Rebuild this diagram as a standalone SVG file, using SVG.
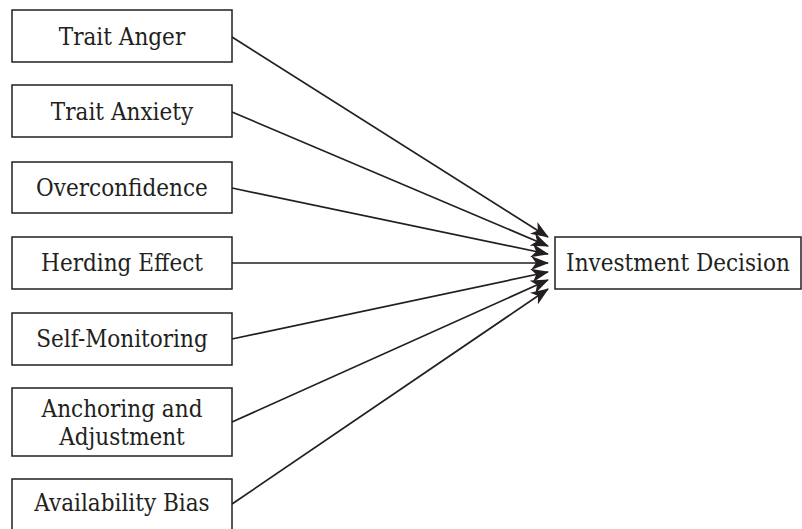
<svg xmlns="http://www.w3.org/2000/svg" width="802" height="529" viewBox="0 0 802 529">
<style>
.box{fill:#fff;stroke:#231f20;stroke-width:1.5}
.lbl{font-family:"DejaVu Serif","Liberation Serif",serif;font-stretch:condensed;font-size:24px;fill:#231f20;text-anchor:middle}
.conn{stroke:#231f20;stroke-width:1.7;fill:none;marker-end:url(#ah)}
</style>
<defs>
<marker id="ah" viewBox="0 0 18 14" refX="17" refY="7" markerWidth="18" markerHeight="14" markerUnits="userSpaceOnUse" orient="auto">
<path d="M0,0 L18,7 L0,14 L5,7 z" fill="#231f20"/>
</marker>
</defs>
<rect width="802" height="529" fill="#fff"/>
<g id="connectors">
<line class="conn" x1="232" y1="37" x2="548" y2="237"/>
<line class="conn" x1="232" y1="112" x2="548" y2="246"/>
<line class="conn" x1="232" y1="188" x2="548" y2="254"/>
<line class="conn" x1="232" y1="263" x2="548" y2="263"/>
<line class="conn" x1="232" y1="339" x2="548" y2="272"/>
<line class="conn" x1="232" y1="422" x2="548" y2="280"/>
<line class="conn" x1="232" y1="504" x2="548" y2="289"/>
</g>
<g id="trait-anger"><rect class="box" x="12" y="10" width="220" height="52"/><text class="lbl" x="122" y="45">Trait Anger</text></g>
<g id="trait-anxiety"><rect class="box" x="12" y="85" width="220" height="52"/><text class="lbl" x="122" y="120">Trait Anxiety</text></g>
<g id="overconfidence"><rect class="box" x="12" y="162" width="220" height="51"/><text class="lbl" x="122" y="196">Overconfidence</text></g>
<g id="herding-effect"><rect class="box" x="12" y="237" width="220" height="52"/><text class="lbl" x="122" y="271">Herding Effect</text></g>
<g id="self-monitoring"><rect class="box" x="12" y="313" width="220" height="52"/><text class="lbl" x="122" y="347">Self-Monitoring</text></g>
<g id="anchoring"><rect class="box" x="12" y="388" width="220" height="68"/><text class="lbl" x="122" y="417">Anchoring and</text><text class="lbl" x="122" y="445">Adjustment</text></g>
<g id="availability-bias"><rect class="box" x="12" y="479" width="220" height="60"/><text class="lbl" x="122" y="511">Availability Bias</text></g>
<g id="investment-decision"><rect class="box" x="555" y="237" width="246" height="52"/><text class="lbl" x="678" y="271">Investment Decision</text></g>
</svg>
